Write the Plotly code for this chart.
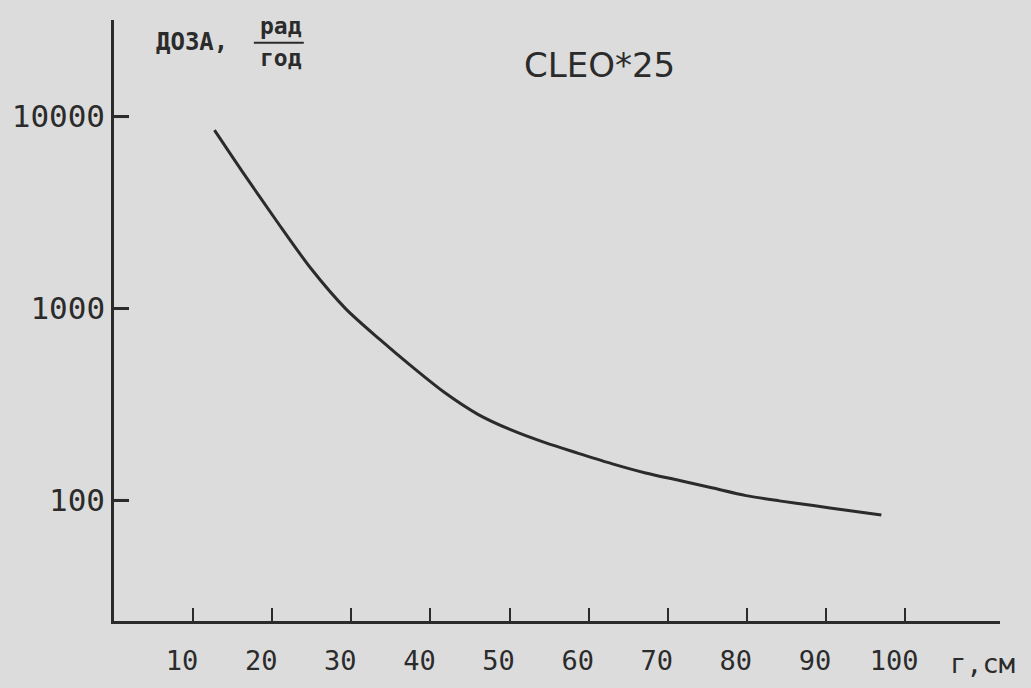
import plotly.graph_objects as go

# Data (r in cm, dose in rad/year)
r_cm = [12.7, 16.2, 20.6, 24.9, 29.3, 33.6, 37.4, 41.7, 46.0, 50.2, 54.5,
        58.7, 63.0, 67.2, 71.5, 75.7, 79.9, 84.1, 88.4, 92.6, 97.0]
dose = [8490, 5180, 2840, 1615, 996, 690, 508, 367, 281, 233, 200,
        176, 155, 139, 127, 116, 106, 99.5, 94, 89, 84]

x_ticks = [10, 20, 30, 40, 50, 60, 70, 80, 90, 100]
y_ticks = [100, 1000, 10000]
y_tick_text = ["100", "1000", "10000"]

ink = "#2b2b2b"
paper = "#dcdcdc"
mono = "DejaVu Sans Mono"

fig = go.Figure()
fig.add_trace(go.Scatter(
    x=r_cm, y=dose, mode="lines",
    line=dict(color=ink, width=3, shape="spline", smoothing=0.8),
    showlegend=False, hoverinfo="skip"))

# y tick marks (inside, pointing right) drawn through the axis scales
for v in y_ticks:
    fig.add_trace(go.Scatter(
        x=[0.0, 1.9], y=[v, v], mode="lines", line=dict(color=ink, width=3),
        showlegend=False, hoverinfo="skip", cliponaxis=False))

fig.update_layout(
    width=1031, height=688, autosize=False,
    margin=dict(l=113, r=31, t=20, b=58),
    paper_bgcolor=paper, plot_bgcolor=paper,
    font=dict(family=mono, color=ink),
    showlegend=False,
)

fig.update_xaxes(
    range=[0, 112], showgrid=False, zeroline=False,
    showline=True, linecolor=ink, linewidth=2.5,
    tickmode="array", tickvals=x_ticks, ticktext=[str(v) for v in x_ticks],
    ticks="inside", ticklen=13, tickwidth=2, tickcolor=ink,
    tickfont=dict(family=mono, size=27, color=ink),
    ticklabelshift=-11, ticklabelstandoff=14,
)
fig.update_yaxes(
    type="log", range=[1.372, 4.503], showgrid=False, zeroline=False,
    showline=True, linecolor=ink, linewidth=2.5,
    tickmode="array", tickvals=y_ticks, ticktext=y_tick_text,
    ticks="inside", ticklen=15, tickwidth=3, tickcolor=ink,
    tickfont=dict(family=mono, size=31, color=ink),
)

def px(x):
    return (x - 113) / 887.0

def py(y):
    return (630 - y) / 610.0

ann = [
    dict(text="CLEO*25", x=px(599), y=py(66), font=dict(family="DejaVu Sans", size=34, color=ink),
         xanchor="center", yanchor="middle"),
    dict(text="<b>ДОЗА,</b>", x=px(153), y=py(42), font=dict(family=mono, size=24, color=ink),
         xanchor="left", yanchor="middle"),
    dict(text="<b>рад</b>", x=px(280), y=py(26), font=dict(family=mono, size=23, color=ink),
         xanchor="center", yanchor="middle"),
    dict(text="<b>год</b>", x=px(280), y=py(59), font=dict(family=mono, size=23, color=ink),
         xanchor="center", yanchor="middle"),
    dict(text="г,см", x=px(948), y=py(673), font=dict(family=mono, size=27, color=ink),
         xanchor="left", yanchor="middle"),
]
for a in ann:
    a.update(xref="paper", yref="paper", showarrow=False)
    fig.add_annotation(**a)

fig.add_shape(type="line", xref="paper", yref="paper",
              x0=px(253), x1=px(303), y0=py(43), y1=py(43),
              line=dict(color=ink, width=2))

fig.write_html("out.html")
